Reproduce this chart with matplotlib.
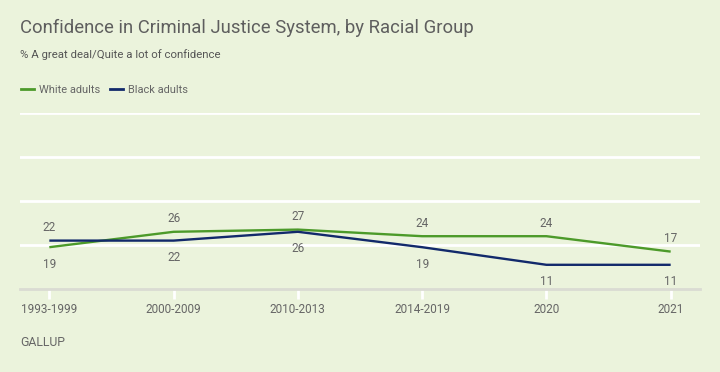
import matplotlib
matplotlib.use("Agg")
import matplotlib.pyplot as plt
from matplotlib.lines import Line2D

# data
periods = ['1993-1999', '2000-2009', '2010-2013', '2014-2019', '2020', '2021']
white = [19, 26, 27, 24, 24, 17]
black = [22, 22, 26, 19, 11, 11]

bg = '#ebf3dc'
green = '#4c9a2a'
navy = '#12296b'
gray = '#666666'

plt.rcParams['font.family'] = ['Roboto', 'DejaVu Sans']

fig = plt.figure(figsize=(7.2, 3.72), dpi=100, facecolor=bg)
# axes: left 20px, right 700px, bottom 289px, top 113px (0..80)
W, H = 720, 372
ax = fig.add_axes([20/W, 1 - 289/H, 680/W, (289-113)/H])
ax.set_facecolor(bg)

x = list(range(len(periods)))
ax.plot(x, white, color=green, lw=1.7, solid_capstyle='butt', zorder=3)
ax.plot(x, black, color=navy, lw=1.7, solid_capstyle='butt', zorder=3)

for i in x:
    w, b = white[i], black[i]
    if w >= b:
        up, dn = w, b
    else:
        up, dn = b, w
    ax.annotate(str(up), (i, up), xytext=(0, 13), textcoords='offset pixels',
                ha='center', va='center', fontsize=8.5, color=gray)
    ax.annotate(str(dn), (i, dn), xytext=(0, -17), textcoords='offset pixels',
                ha='center', va='center', fontsize=8.5, color=gray)

ax.set_ylim(0, 80)
ax.set_xlim(-0.236, 5.236)
ax.set_yticks([20, 40, 60, 80])
ax.yaxis.grid(True, color='white', lw=2)
ax.tick_params(axis='y', left=False, labelleft=False)
ax.set_xticks(x)
ax.set_xticklabels(periods, fontsize=8.5, color=gray)
ax.tick_params(axis='x', length=7, width=2, color='white', pad=3)
for s in ['left', 'right', 'top']:
    ax.spines[s].set_visible(False)
ax.spines['bottom'].set_color('#dadbd3')
ax.spines['bottom'].set_linewidth(2)
ax.set_axisbelow(True)

fig.text(20/W, 1 - 28/H, 'Confidence in Criminal Justice System, by Racial Group',
         fontsize=13.3, color='#5e5e5e', va='center', ha='left')
fig.text(20/W, 1 - 55/H, '% A great deal/Quite a lot of confidence',
         fontsize=8.2, color='#555555', va='center', ha='left')

handles = [Line2D([], [], color=green, lw=2), Line2D([], [], color=navy, lw=2)]
fig.legend(handles, ['White adults', 'Black adults'], loc='center left',
           bbox_to_anchor=(11/W, 1 - 90/H), ncol=2, frameon=False, fontsize=7.9,
           handlelength=1.2, handletextpad=0.45, columnspacing=0.9, labelcolor=gray)

fig.text(20/W, 1 - 342/H, 'GALLUP', fontsize=8.8, color=gray, va='center', ha='left')

fig.savefig('out.png', dpi=100, facecolor=bg)
